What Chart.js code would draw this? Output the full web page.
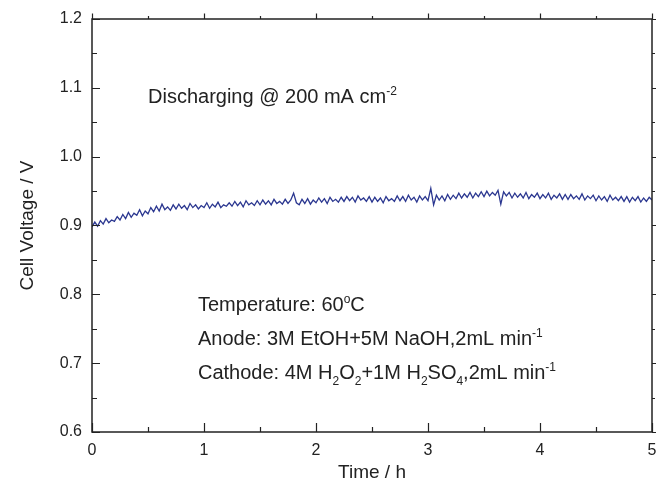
<!DOCTYPE html>
<html>
<head>
<meta charset="utf-8">
<title>Cell voltage during discharge</title>
<script src="https://cdn.jsdelivr.net/npm/chart.js@4.4.1/dist/chart.umd.min.js"></script>
<style>
    html, body { margin: 0; padding: 0; background: #fff; }
    #wrap { width: 656px; height: 488px; position: relative; }
</style>
</head>
<body>
<div id="wrap"><canvas id="chart"></canvas></div>
<script>
// Sampling interval of the logger (h) and recorded cell voltage (V)
const TIME_STEP_H = 0.025;
const VOLTAGE = [
    0.898, 0.905, 0.899, 0.907, 0.902, 0.910, 0.904, 0.908, 0.906, 0.913,
    0.908, 0.916, 0.910, 0.919, 0.912, 0.918, 0.915, 0.923, 0.914, 0.921,
    0.917, 0.926, 0.920, 0.928, 0.921, 0.931, 0.923, 0.927, 0.922, 0.930,
    0.924, 0.931, 0.925, 0.929, 0.923, 0.932, 0.926, 0.930, 0.924, 0.929,
    0.926, 0.933, 0.925, 0.931, 0.927, 0.934, 0.926, 0.930, 0.928, 0.933,
    0.928, 0.935, 0.929, 0.934, 0.927, 0.936, 0.930, 0.933, 0.929, 0.936,
    0.930, 0.937, 0.931, 0.936, 0.930, 0.938, 0.932, 0.935, 0.931, 0.938,
    0.932, 0.937, 0.947, 0.933, 0.930, 0.938, 0.932, 0.939, 0.931, 0.937,
    0.933, 0.940, 0.934, 0.939, 0.932, 0.941, 0.935, 0.938, 0.934, 0.941,
    0.935, 0.942, 0.936, 0.941, 0.934, 0.943, 0.937, 0.940, 0.935, 0.942,
    0.934, 0.941, 0.935, 0.940, 0.933, 0.942, 0.936, 0.939, 0.935, 0.943,
    0.936, 0.942, 0.935, 0.944, 0.937, 0.941, 0.934, 0.943, 0.937, 0.942,
    0.936, 0.954, 0.930, 0.944, 0.937, 0.943, 0.936, 0.945, 0.938, 0.944,
    0.939, 0.947, 0.940, 0.946, 0.941, 0.948, 0.940, 0.947, 0.942, 0.949,
    0.942, 0.950, 0.943, 0.948, 0.944, 0.951, 0.931, 0.949, 0.943, 0.948,
    0.940, 0.947, 0.941, 0.946, 0.940, 0.948, 0.939, 0.945, 0.941, 0.947,
    0.939, 0.945, 0.940, 0.947, 0.938, 0.944, 0.940, 0.946, 0.938, 0.945,
    0.938, 0.945, 0.939, 0.943, 0.938, 0.946, 0.937, 0.943, 0.939, 0.944,
    0.936, 0.943, 0.937, 0.942, 0.935, 0.944, 0.937, 0.941, 0.936, 0.942,
    0.935, 0.942, 0.934, 0.941, 0.936, 0.942, 0.934, 0.940, 0.935, 0.941,
    0.937
];

// Axis ticks
const X_TICKS = [0, 1, 2, 3, 4, 5];
const X_MINOR = [0.5, 1.5, 2.5, 3.5, 4.5];
const Y_TICKS = [0.6, 0.7, 0.8, 0.9, 1.0, 1.1, 1.2];
const Y_MINOR = [0.65, 0.75, 0.85, 0.95, 1.05, 1.15];

const X_TITLE = 'Time / h';
const Y_TITLE = 'Cell Voltage / V';

// Annotation text: [text, 0 normal | 1 superscript | -1 subscript]
const NOTE_TOP = [['Discharging @ 200 mA cm', 0], ['-2', 1]];
const NOTE_LINES = [
    [['Temperature: 60', 0], ['o', 1], ['C', 0]],
    [['Anode: 3M EtOH+5M NaOH,2mL min', 0], ['-1', 1]],
    [['Cathode: 4M H', 0], ['2', -1], ['O', 0], ['2', -1], ['+1M H', 0], ['2', -1],
     ['SO', 0], ['4', -1], [',2mL min', 0], ['-1', 1]]
];

const FONT = '"Liberation Sans", Arial, sans-serif';
const INK = '#222';

const points = VOLTAGE.map((v, i) => ({ x: +(i * TIME_STEP_H).toFixed(3), y: v }));

function drawRich(ctx, x, y, parts, size) {
    let cx = x;
    parts.forEach(([text, mode]) => {
        const s = mode === 0 ? size : Math.round(size * 0.6);
        const dy = mode === 1 ? -size * 0.42 : mode === -1 ? size * 0.3 : 0;
        ctx.font = s + 'px ' + FONT;
        ctx.fillText(text, cx, y + dy);
        cx += ctx.measureText(text).width;
    });
}

// Frame, tick marks, titles and notes
const framePlugin = {
    id: 'frame',
    afterDatasetsDraw(chart) {
        const { ctx, chartArea: a, scales: { x, y } } = chart;
        ctx.save();
        ctx.strokeStyle = INK;
        ctx.lineWidth = 1.5;
        ctx.strokeRect(a.left, a.top, a.right - a.left, a.bottom - a.top);

        ctx.lineWidth = 1.2;
        ctx.beginPath();
        const tickX = (vals, len) => vals.forEach(v => {
            const px = Math.round(x.getPixelForValue(v)) + 0.5;
            ctx.moveTo(px, a.bottom); ctx.lineTo(px, a.bottom - len);
            ctx.moveTo(px, a.top); ctx.lineTo(px, a.top - len * 0.6);
        });
        const tickY = (vals, len) => vals.forEach(v => {
            const py = Math.round(y.getPixelForValue(v)) + 0.5;
            ctx.moveTo(a.left, py); ctx.lineTo(a.left + len, py);
            ctx.moveTo(a.right, py); ctx.lineTo(a.right + len * 0.6, py);
        });
        tickX(X_TICKS, 9); tickX(X_MINOR, 5);
        tickY(Y_TICKS, 8); tickY(Y_MINOR, 5);
        ctx.stroke();

        ctx.fillStyle = INK;
        ctx.textBaseline = 'alphabetic';
        ctx.textAlign = 'center';
        ctx.font = '19px ' + FONT;
        ctx.fillText(X_TITLE, (a.left + a.right) / 2, 478);
        ctx.save();
        ctx.translate(33, (a.top + a.bottom) / 2);
        ctx.rotate(-Math.PI / 2);
        ctx.fillText(Y_TITLE, 0, 0);
        ctx.restore();

        ctx.textAlign = 'left';
        drawRich(ctx, 148, 103, NOTE_TOP, 20);
        NOTE_LINES.forEach((line, i) => drawRich(ctx, 198, 311 + i * 34, line, 20));
        ctx.restore();
    }
};

new Chart(document.getElementById('chart'), {
    type: 'line',
    data: {
        datasets: [{
            data: points,
            borderColor: '#2b3790',
            borderWidth: 1.3,
            pointRadius: 0,
            tension: 0,
            fill: false
        }]
    },
    options: {
        responsive: true,
        maintainAspectRatio: false,
        animation: false,
        events: [],
        layout: { padding: { top: 19, right: 4, left: 0, bottom: 0 } },
        plugins: { legend: { display: false }, tooltip: { enabled: false } },
        scales: {
            x: {
                type: 'linear',
                min: 0, max: 5,
                afterFit: s => { s.height = 56; s.paddingLeft = 0; s.paddingRight = 0; },
                afterBuildTicks: s => { s.ticks = X_TICKS.map(v => ({ value: v })); },
                grid: { display: false, drawTicks: false },
                border: { display: false },
                ticks: { color: INK, padding: 9, font: { family: FONT, size: 16 }, maxRotation: 0 }
            },
            y: {
                min: 0.6, max: 1.2,
                afterFit: s => { s.width = 92; s.paddingTop = 0; s.paddingBottom = 0; },
                afterBuildTicks: s => { s.ticks = Y_TICKS.map(v => ({ value: v })); },
                grid: { display: false, drawTicks: false },
                border: { display: false },
                ticks: {
                    color: INK, padding: 10, font: { family: FONT, size: 16 },
                    callback: v => v.toFixed(1)
                }
            }
        }
    },
    plugins: [framePlugin]
});
</script>
</body>
</html>
